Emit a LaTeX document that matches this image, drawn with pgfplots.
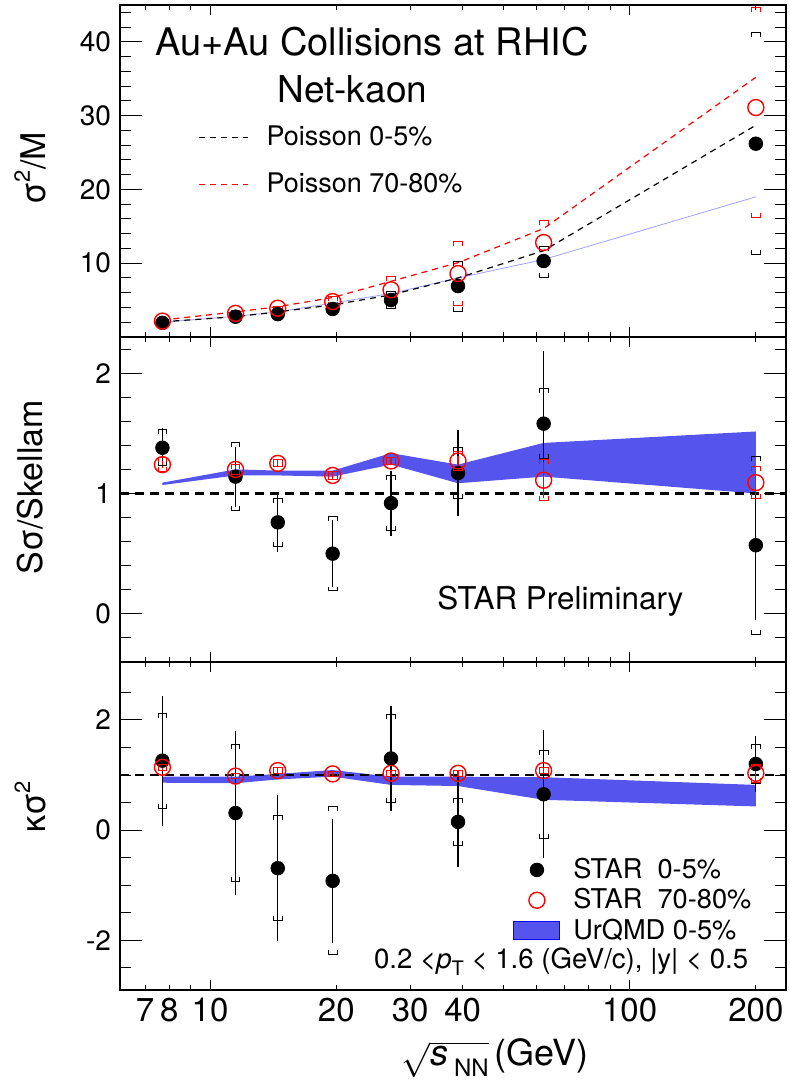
\documentclass[border=0pt]{standalone}
\usepackage{pgfplots}
\pgfplotsset{compat=1.18}
\usepackage{pgfplotstable}
\usepackage{fontspec}
\setmainfont{TeX Gyre Heros}

\definecolor{bandcol}{RGB}{85,85,238}
\definecolor{urline}{RGB}{160,160,255}

\pgfdeclareplotmark{brtop}{%
  \pgfpathmoveto{\pgfqpoint{-\pgfplotmarksize}{-1.0\pgfplotmarksize}}%
  \pgfpathlineto{\pgfqpoint{-\pgfplotmarksize}{0pt}}%
  \pgfpathlineto{\pgfqpoint{\pgfplotmarksize}{0pt}}%
  \pgfpathlineto{\pgfqpoint{\pgfplotmarksize}{-1.0\pgfplotmarksize}}%
  \pgfusepathqstroke}
\pgfdeclareplotmark{brbot}{%
  \pgfpathmoveto{\pgfqpoint{-\pgfplotmarksize}{1.0\pgfplotmarksize}}%
  \pgfpathlineto{\pgfqpoint{-\pgfplotmarksize}{0pt}}%
  \pgfpathlineto{\pgfqpoint{\pgfplotmarksize}{0pt}}%
  \pgfpathlineto{\pgfqpoint{\pgfplotmarksize}{1.0\pgfplotmarksize}}%
  \pgfusepathqstroke}

% ---------------- data ----------------
\pgfplotstableread{
x y sysp sysm
7.7 1.92 0.15 0.15
11.5 2.75 0.2 0.2
14.5 3.10 0.25 0.25
19.6 3.80 0.45 0.45
27 5.0 1.1 1.2
39 6.9 3.3 3.4
62.4 10.3 2.0 2.2
200 26.2 15.1 15.0
}\pOneB
\pgfplotstableread{
x y sysp sysm
7.7 2.15 0.15 0.15
11.5 3.2 0.2 0.2
14.5 3.9 0.3 0.3
19.6 4.8 0.7 0.6
27 6.4 1.8 1.9
39 8.6 4.3 4.3
62.4 12.8 3.0 3.0
200 31.1 13.6 14.9
}\pOneR
\pgfplotstableread{
x y stat sysp sysm
7.7 1.38 0.16 0.15 0.15
11.5 1.14 0.25 0.28 0.28
14.5 0.76 0.25 0.20 0.20
19.6 0.50 0.28 0.31 0.31
27 0.92 0.27 0.23 0.23
39 1.17 0.36 0.21 0.21
62.4 1.58 0.60 0.29 0.29
200 0.57 0.62 0.74 0.74
}\pTwoB
\pgfplotstableread{
x y stat sysp sysm
7.7 1.24 0.03 0.06 0.06
11.5 1.20 0.03 0.04 0.04
14.5 1.25 0.03 0.03 0.03
19.6 1.15 0.03 0.03 0.03
27 1.27 0.03 0.03 0.03
39 1.27 0.04 0.08 0.08
62.4 1.11 0.15 0.17 0.17
200 1.09 0.10 0.13 0.13
}\pTwoR
\pgfplotstableread{
x y stat sysp sysm
7.7 1.26 1.18 0.86 0.86
11.5 0.31 1.49 1.24 1.24
14.5 -0.69 1.33 0.95 0.95
19.6 -0.92 1.12 1.34 1.34
27 1.30 0.96 0.79 0.79
39 0.15 0.81 0.42 0.42
62.4 0.65 1.16 0.80 0.80
200 1.20 0.50 0.35 0.35
}\pThreeB
\pgfplotstableread{
x y stat sysp sysm
7.7 1.14 0.05 0.05 0.05
11.5 0.98 0.05 0.05 0.05
14.5 1.08 0.05 0.05 0.05
19.6 1.02 0.05 0.05 0.05
27 1.03 0.05 0.05 0.05
39 1.03 0.05 0.05 0.05
62.4 1.08 0.06 0.06 0.06
200 1.03 0.12 0.16 0.16
}\pThreeR

\begin{document}
\begin{tikzpicture}
\useasboundingbox (0,0) rectangle (395pt,543pt);

% ================= panel 1 =================
\begin{axis}[scale only axis, width=333pt, height=166pt, anchor=south west, at={(60pt,374.5pt)},
  xmode=log, xmin=6.1, xmax=236, xtick=\empty,
  ymin=0, ymax=45, ytick={10,20,30,40}, minor ytick={2,4,...,44},
  axis line style={line width=1pt}, tick style={line width=0.5pt, black},
  tick align=inside, ytick pos=both,
  major tick length=11pt, minor tick length=5.5pt,
  /pgf/number format/assume math mode=true,
  yticklabel style={font=\fontsize{14}{14}\selectfont, xshift=-1pt},
  ylabel={σ\raisebox{0.85ex}{\fontsize{11}{11}\selectfont 2}/M},
  ylabel style={font=\fontsize{17}{17}\selectfont, at={(axis description cs:-0.135,0.509)}, anchor=center},
  legend style={at={(axis description cs:0.117,0.648)}, anchor=north west,
    draw=none, fill=none, inner sep=0pt,
    font=\fontsize{13.5}{13.5}\selectfont, row sep=8pt},
  legend cell align=left,
  legend image code/.code={\draw[#1] (0pt,0pt) -- (24.5pt,0pt);},
]
\addplot[urline, line width=0.4pt, forget plot] coordinates {
(7.7,2.0) (11.5,2.8) (14.5,3.4) (19.6,4.6) (27,5.9) (39,8.0) (62.4,10.5) (200,19.0)};
\addplot[black, line width=0.6pt, dash pattern=on 3pt off 2.5pt] coordinates {
(7.7,2.06) (11.5,2.75) (14.5,3.4) (19.6,4.35) (27,5.7) (39,8.0) (62.4,11.7) (200,28.7)};
\addlegendentry{\hspace*{7pt}Poisson 0-5\%}
\addplot[red, line width=0.6pt, dash pattern=on 3pt off 2.5pt] coordinates {
(7.7,2.3) (11.5,3.4) (14.5,4.1) (19.6,5.35) (27,7.55) (39,10.07) (62.4,14.7) (200,35.2)};
\addlegendentry{\hspace*{7pt}Poisson 70-80\%}
\addplot[only marks, mark size=2.2pt, line width=0.5pt, forget plot, black, mark=brtop] table[x=x, y expr=\thisrow{y}+\thisrow{sysp}] {\pOneB};
\addplot[only marks, mark size=2.2pt, line width=0.5pt, forget plot, black, mark=brbot] table[x=x, y expr=\thisrow{y}-\thisrow{sysm}] {\pOneB};
\addplot[only marks, mark size=2.2pt, line width=0.5pt, forget plot, red, mark=brtop] table[x=x, y expr=\thisrow{y}+\thisrow{sysp}] {\pOneR};
\addplot[only marks, mark size=2.2pt, line width=0.5pt, forget plot, red, mark=brbot] table[x=x, y expr=\thisrow{y}-\thisrow{sysm}] {\pOneR};
\addplot[only marks, mark=*, mark size=3.4pt, black, forget plot] table[x=x, y=y] {\pOneB};
\addplot[only marks, mark=o, mark size=4pt, red, line width=0.7pt, forget plot] table[x=x, y=y] {\pOneR};
\node[anchor=base west, inner sep=0pt, font=\fontsize{19}{19}\selectfont] at (axis description cs:0.0525,0.849) {Au+Au Collisions at RHIC};
\node[anchor=base west, inner sep=0pt, font=\fontsize{18.5}{18.5}\selectfont] at (axis description cs:0.2357,0.705) {Net-kaon};
\end{axis}
\begin{axis}[scale only axis, width=333pt, height=166pt, anchor=south west, at={(60pt,374.5pt)},
  xmode=log, xmin=6.1, xmax=236, ymin=0, ymax=45, ytick=\empty,
  axis line style={draw=none}, tick style={line width=0.5pt, black},
  tick align=inside, xtick pos=both,
  xtick={10,100}, xticklabels={}, minor xtick={6,7,8,9,20,30,40,50,60,70,80,90,200},
  major tick length=5pt, minor tick length=2.5pt]
\end{axis}

% ================= panel 2 =================
\begin{axis}[scale only axis, width=333pt, height=162.5pt, anchor=south west, at={(60pt,212pt)},
  xmode=log, xmin=6.1, xmax=236, xtick=\empty,
  ymin=-0.4, ymax=2.3, ytick={0,1,2},
  minor ytick={-0.2,0.2,0.4,0.6,0.8,1.2,1.4,1.6,1.8,2.2},
  axis line style={line width=1pt}, tick style={line width=0.5pt, black},
  tick align=inside, ytick pos=both,
  major tick length=11pt, minor tick length=5.5pt,
  /pgf/number format/assume math mode=true,
  yticklabel style={font=\fontsize{14}{14}\selectfont, xshift=-1pt},
  ylabel={Sσ/Skellam},
  ylabel style={font=\fontsize{17}{17}\selectfont, at={(axis description cs:-0.135,0.538)}, anchor=center},
]
\addplot[draw=none, fill=bandcol, forget plot] coordinates {
(7.7,1.07) (11.5,1.15) (14.5,1.15) (19.6,1.14) (27,1.24) (39,1.085) (62.4,1.14) (200,1.00)
(200,1.515) (62.4,1.42) (39,1.24) (27,1.335) (19.6,1.19) (14.5,1.19) (11.5,1.20) (7.7,1.09)} -- cycle;
\addplot[black, line width=1.2pt, dash pattern=on 4.5pt off 3pt, forget plot] coordinates {(6.1,1) (236,1)};
\addplot[only marks, mark=*, mark size=3.4pt, black, forget plot, error bars/.cd, y dir=both, y explicit, error mark=none,
  error bar style={line width=0.6pt, black}] table[x=x, y=y, y error=stat] {\pTwoB};
\addplot[only marks, mark size=2.2pt, line width=0.5pt, forget plot, black, mark=brtop] table[x=x, y expr=\thisrow{y}+\thisrow{sysp}] {\pTwoB};
\addplot[only marks, mark size=2.2pt, line width=0.5pt, forget plot, black, mark=brbot] table[x=x, y expr=\thisrow{y}-\thisrow{sysm}] {\pTwoB};
\addplot[only marks, mark=o, mark size=4pt, red, line width=0.7pt, forget plot, error bars/.cd, y dir=both, y explicit, error mark=none,
  error bar style={line width=0.6pt, red}] table[x=x, y=y, y error=stat] {\pTwoR};
\addplot[only marks, mark size=2.2pt, line width=0.5pt, forget plot, red, mark=brtop] table[x=x, y expr=\thisrow{y}+\thisrow{sysp}] {\pTwoR};
\addplot[only marks, mark size=2.2pt, line width=0.5pt, forget plot, red, mark=brbot] table[x=x, y expr=\thisrow{y}-\thisrow{sysm}] {\pTwoR};
\node[anchor=base west, inner sep=0pt, font=\fontsize{15.7}{15.7}\selectfont] at (axis description cs:0.476,0.163) {STAR Preliminary};
\end{axis}
\begin{axis}[scale only axis, width=333pt, height=162.5pt, anchor=south west, at={(60pt,212pt)},
  xmode=log, xmin=6.1, xmax=236, ymin=-0.4, ymax=2.3, ytick=\empty,
  axis line style={draw=none}, tick style={line width=0.5pt, black},
  tick align=inside, xtick pos=both,
  xtick={10,100}, xticklabels={}, minor xtick={6,7,8,9,20,30,40,50,60,70,80,90,200},
  major tick length=5pt, minor tick length=2.5pt]
\end{axis}

% ================= panel 3 =================
\begin{axis}[scale only axis, width=333pt, height=164pt, anchor=south west, at={(60pt,48pt)},
  xmode=log, xmin=6.1, xmax=236, xtick=\empty,
  ymin=-2.9, ymax=3.05, ytick={-2,0,2}, yticklabels={-2,0,2},
  minor ytick={-2.5,-1.5,-1,-0.5,0.5,1,1.5,2.5},
  axis line style={line width=1pt}, tick style={line width=0.5pt, black},
  tick align=inside, ytick pos=both,
  major tick length=11pt, minor tick length=5.5pt,
  yticklabel style={font=\fontsize{14}{14}\selectfont, xshift=-1pt},
  ylabel={κσ\raisebox{0.85ex}{\fontsize{11}{11}\selectfont 2}},
  ylabel style={font=\fontsize{17}{17}\selectfont, at={(axis description cs:-0.135,0.558)}, anchor=center},
  legend style={at={(axis description cs:0.590,0.415)}, anchor=north west,
    draw=none, fill=none, inner sep=0pt,
    font=\fontsize{13.6}{13.6}\selectfont, row sep=-0.5pt},
  legend cell align=left,
]
\addlegendimage{only marks, mark=*, mark size=3.4pt, black}
\addlegendentry{\hspace*{4.5pt}STAR\ \ 0-5\%}
\addlegendimage{only marks, mark=o, mark size=4pt, red, line width=0.7pt}
\addlegendentry{\hspace*{4.5pt}STAR\ \ 70-80\%}
\addlegendimage{legend image code/.code={\draw[fill=bandcol, draw=blue, line width=0.5pt] (-3pt,-4.5pt) rectangle (20pt,4.5pt);}}
\addlegendentry{\hspace*{4.5pt}UrQMD 0-5\%}
\addplot[draw=none, fill=bandcol, forget plot] coordinates {
(7.7,0.86) (11.5,0.85) (14.5,0.92) (19.6,0.97) (27,0.82) (39,0.80) (62.4,0.55) (200,0.43)
(200,0.82) (62.4,0.96) (39,0.97) (27,0.97) (19.6,1.09) (14.5,1.02) (11.5,0.97) (7.7,0.97)} -- cycle;
\addplot[black, line width=1.2pt, dash pattern=on 4.5pt off 3pt, forget plot] coordinates {(6.1,1) (236,1)};
\addplot[only marks, mark=*, mark size=3.4pt, black, forget plot, error bars/.cd, y dir=both, y explicit, error mark=none,
  error bar style={line width=0.6pt, black}] table[x=x, y=y, y error=stat] {\pThreeB};
\addplot[only marks, mark size=2.2pt, line width=0.5pt, forget plot, black, mark=brtop] table[x=x, y expr=\thisrow{y}+\thisrow{sysp}] {\pThreeB};
\addplot[only marks, mark size=2.2pt, line width=0.5pt, forget plot, black, mark=brbot] table[x=x, y expr=\thisrow{y}-\thisrow{sysm}] {\pThreeB};
\addplot[only marks, mark=o, mark size=4pt, red, line width=0.7pt, forget plot, error bars/.cd, y dir=both, y explicit, error mark=none,
  error bar style={line width=0.6pt, red}] table[x=x, y=y, y error=stat] {\pThreeR};
\addplot[only marks, mark size=2.2pt, line width=0.5pt, forget plot, red, mark=brtop] table[x=x, y expr=\thisrow{y}+\thisrow{sysp}] {\pThreeR};
\addplot[only marks, mark size=2.2pt, line width=0.5pt, forget plot, red, mark=brbot] table[x=x, y expr=\thisrow{y}-\thisrow{sysm}] {\pThreeR};
\node[anchor=base west, inner sep=0pt, font=\fontsize{13.8}{13.8}\selectfont] at (axis description cs:0.381,0.067)
  {0.2 <\textit{p}\raisebox{-0.55ex}{\fontsize{10}{10}\selectfont T} < 1.6 (GeV/c), |y| < 0.5};
\end{axis}
\begin{axis}[scale only axis, width=333pt, height=164pt, anchor=south west, at={(60pt,48pt)},
  xmode=log, xmin=6.1, xmax=236, ymin=-2.9, ymax=3.05, ytick=\empty,
  axis line style={draw=none}, tick style={line width=0.5pt, black},
  tick align=inside, xtick pos=both,
  xtick={10,100}, xticklabels={10,100}, minor xtick={6,7,8,9,20,30,40,50,60,70,80,90,200},
  major tick length=5pt, minor tick length=2.5pt,
  xticklabel style={font=\fontsize{16.5}{16.5}\selectfont, inner sep=1pt, yshift=-3pt},
  xlabel={$\sqrt{\mbox{\textit{s}\,\raisebox{-0.6ex}{\fontsize{12}{12}\selectfont NN}}}$\,(GeV)},
  xlabel style={at={(axis description cs:0.563,-0.23)}, anchor=base, font=\fontsize{18}{18}\selectfont}]
\end{axis}
\begin{axis}[scale only axis, width=333pt, height=164pt, anchor=south west, at={(60pt,48pt)},
  xmode=log, xmin=6.1, xmax=236, ymin=-2.9, ymax=3.05, ytick=\empty,
  axis line style={draw=none}, tick style={draw=none},
  xtick pos=bottom, xtick={7,8,20,30,40,200}, xticklabels={7,8,20,30,40,200},
  major tick length=0pt,
  xticklabel style={font=\fontsize{16.5}{16.5}\selectfont, inner sep=1pt, yshift=-3pt}]
\end{axis}
\end{tikzpicture}
\end{document}
